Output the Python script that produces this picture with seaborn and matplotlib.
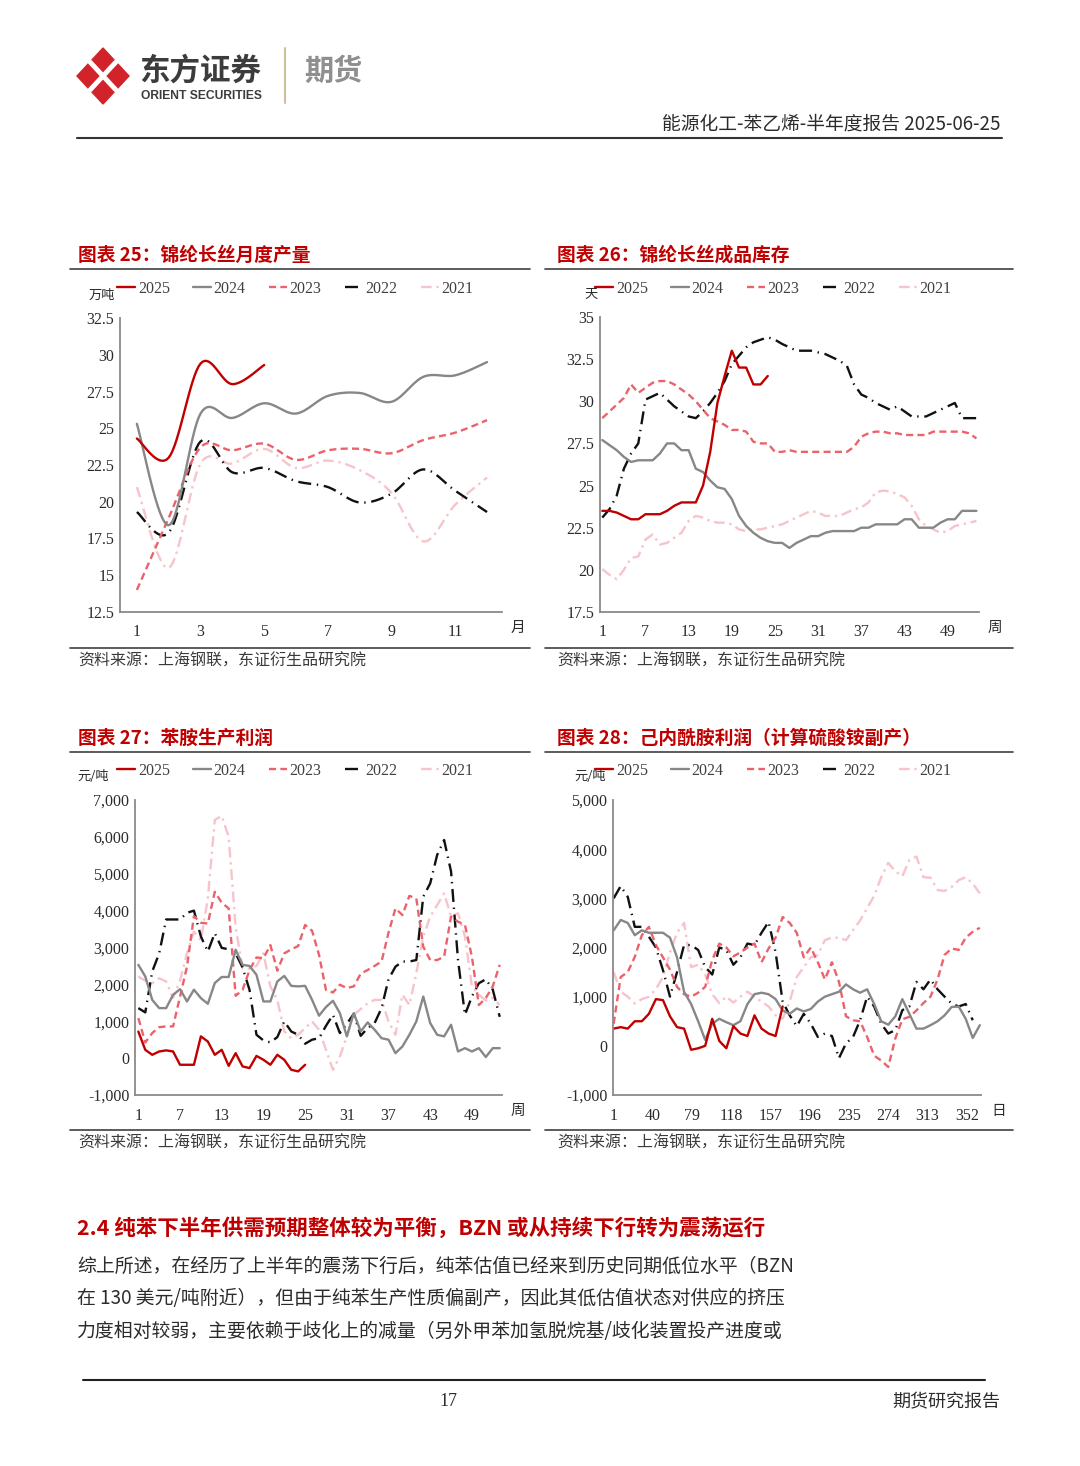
import numpy as np
import pandas as pd
import matplotlib
matplotlib.use("Agg")
import matplotlib.pyplot as plt
import seaborn as sns
from matplotlib.lines import Line2D
from matplotlib.patches import Polygon
from matplotlib.ticker import FuncFormatter

# ---- chart 25: monthly output (万吨) ----
months = list(range(1, 13))
prod_2025 = [24.3, 23.0, 29.4, 28.0, 29.3]
prod_2024 = [25.3, 18.4, 26.0, 25.7, 26.7, 26.0, 27.2, 27.4, 26.8, 28.5, 28.6, 29.5]
prod_2023 = [14.0, 18.9, 23.7, 23.5, 23.95, 22.85, 23.5, 23.6, 23.3, 24.2, 24.7, 25.55]
prod_2022 = [19.3, 17.9, 24.1, 22.0, 22.3, 21.4, 21.0, 19.95, 20.55, 22.2, 20.75, 19.3]
prod_2021 = [21.0, 15.5, 22.6, 22.6, 23.6, 22.3, 22.8, 22.15, 20.6, 17.3, 19.8, 21.65]

# ---- chart 26: finished inventory (天), weekly ----
weeks = list(range(1, 54))
inv_2025 = [23.5, 23.5, 23.4, 23.2, 23.0, 23.0, 23.3, 23.3, 23.3, 23.5, 23.8, 24.0, 24.0, 24.0,
            25.0, 27.0, 29.9, 31.5, 33.0, 32.0, 32.0, 31.0, 31.0, 31.5]
inv_2024 = [27.7, 27.4, 27.1, 26.7, 26.4, 26.5, 26.5, 26.5, 26.9, 27.5,
            27.5, 27.1, 27.1, 26.0, 25.8, 25.3, 24.9, 24.8, 24.2, 23.2,
            22.6, 22.2, 21.9, 21.7, 21.6, 21.6, 21.3, 21.6, 21.8, 22.0,
            22.0, 22.2, 22.3, 22.3, 22.3, 22.3, 22.5, 22.5, 22.7, 22.7,
            22.7, 22.7, 23.0, 23.0, 22.5, 22.5, 22.5, 22.8, 23.0, 23.0,
            23.5, 23.5, 23.5]
inv_2023 = [29.0, 29.4, 29.8, 30.2, 31.0, 30.5, 30.8, 31.1, 31.2, 31.2,
            31.0, 30.7, 30.4, 30.0, 29.5, 29.0, 28.8, 28.6, 28.3, 28.3,
            28.2, 27.6, 27.5, 27.5, 27.0, 27.0, 27.1, 27.0, 27.0, 27.0,
            27.0, 27.0, 27.0, 27.0, 27.0, 27.3, 27.9, 28.1, 28.2, 28.2,
            28.1, 28.1, 28.0, 28.0, 28.0, 28.0, 28.2, 28.2, 28.2, 28.2,
            28.2, 28.1, 27.8]
inv_2022 = [23.1, 23.6, 24.4, 26.0, 26.9, 27.5, 30.1, 30.3, 30.5, 30.1,
            29.7, 29.4, 29.1, 29.0, 29.4, 29.9, 30.5, 31.2, 32.2, 32.7,
            33.2, 33.5, 33.65, 33.8, 33.65, 33.4, 33.2, 33.0, 33.0, 33.0,
            32.9, 32.8, 32.6, 32.4, 32.1, 31.0, 30.4, 30.2, 29.9, 29.7,
            29.5, 29.7, 29.4, 29.1, 29.1, 29.1, 29.3, 29.5, 29.7, 29.9,
            29.0, 29.0, 29.0]
inv_2021 = [20.05, 19.7, 19.45, 20.0, 20.7, 20.8, 21.8, 22.1, 21.5, 21.6,
            21.9, 22.2, 22.9, 23.2, 23.1, 22.9, 22.8, 22.8, 22.7, 22.4,
            22.3, 22.4, 22.4, 22.5, 22.6, 22.7, 22.9, 23.1, 23.3, 23.5,
            23.4, 23.2, 23.2, 23.2, 23.4, 23.6, 23.7, 24.0, 24.6, 24.7,
            24.65, 24.5, 24.3, 23.8, 23.0, 22.6, 22.4, 22.2, 22.3, 22.6,
            22.7, 22.8, 22.9]

# ---- chart 27: aniline margin (元/吨), weekly ----
anl_2025 = [720, 225, 90, 180, 210, 180, -180, -180, -180, 590, 450, 90, 225, -210, 135,
            -225, -270, 60, -45, -180, 90, -45, -316, -360, -180]
anl_2024 = [2530, 2215, 1580, 1356, 1356, 1718, 1870, 1537, 1855, 1627,
            1474, 2035, 2200, 2200, 2940, 2530, 2500, 2260, 1537, 1537,
            2080, 2230, 1960, 1945, 1960, 1580, 1150, 1385, 1555, 1220,
            590, 1220, 723, 968, 770, 540, 500, 135, 316, 633,
            995, 1670, 950, 633, 590, 905, 180, 270, 180, 270,
            30, 270, 270]
anl_2023 = [1085, 425, 680, 840, 860, 860, 1670, 2480, 3850, 3670,
            3650, 4510, 4215, 4060, 1690, 1850, 2390, 2730, 2710, 3065,
            2370, 2840, 2950, 3040, 3610, 3455, 2800, 1850, 1780, 1990,
            1900, 1945, 2290, 2390, 2500, 2620, 3400, 4060, 3880, 4400,
            4330, 3020, 2660, 2660, 2750, 3840, 3700, 3610, 2750, 1440,
            1630, 1945, 2530]
anl_2022 = [1356, 1240, 2350, 2840, 3760, 3760, 3760, 3940, 4000, 3300,
            2890, 3390, 2990, 2950, 2840, 2460, 1850, 633, 480, 425,
            570, 995, 723, 633, 390, 500, 540, 875, 1175, 680,
            930, 1200, 605, 815, 950, 1356, 2140, 2480, 2620, 2620,
            2660, 4380, 4740, 5510, 5915, 5060, 2660, 1175, 1670, 2030,
            2140, 1860, 1120]
anl_2021 = [2210, 2100, 2030, 2165, 2080, 1630, 2100, 2840, 3430, 3200,
            4330, 6460, 6570, 6000, 3560, 2430, 2430, 2500, 2840, 1945,
            1580, 723, 540, 633, 815, 995, 770, 225, -316, 45,
            590, 1175, 1330, 1490, 1580, 1580, 995, 633, 1720, 1440,
            2300, 3300, 3840, 4150, 4470, 3840, 3930, 3300, 1945, 1720,
            1560, 1630, 1440]

# ---- chart 28: caprolactam margin (元/吨), read every 7 days ----
days = list(range(1, 366, 7))
cpl_2025 = [350, 380, 350, 500, 500, 650, 950, 930, 600, 380, 350, -80, -50, 0, 550,
            100, -50, 400, 250, 200, 620, 350, 250, 200, 800]
cpl_2024 = [2350, 2560, 2500, 2250, 2350, 2300, 2300, 2300, 2200, 1800,
            1100, 850, 500, 120, 450, 550, 480, 420, 500, 850,
            1050, 1080, 1050, 950, 720, 650, 760, 700, 750, 900,
            1000, 1050, 1100, 1250, 1150, 1080, 1150, 850, 500, 430,
            600, 950, 650, 350, 350, 420, 500, 620, 790, 800,
            550, 160, 420]
cpl_2023 = [450, 1400, 1500, 1810, 2250, 2420, 2050, 1800, 1550, 1200,
            1050, 1000, 1080, 1200, 1750, 2080, 2000, 1820, 1900, 2000,
            2080, 1700, 1980, 2200, 2620, 2500, 2300, 1800, 2000, 1700,
            1350, 1700, 1300, 600, 520, 500, 180, -200, -300, -430,
            150, 540, 590, 720, 870, 1000, 1350, 1850, 1980, 1950,
            2200, 2320, 2400]
cpl_2022 = [3000, 3250, 3030, 2420, 2420, 2220, 2000, 1540, 1000, 1500,
            2050, 2050, 1950, 1600, 1450, 2000, 1950, 1650, 1800, 2080,
            2050, 2300, 2520, 1900, 900, 620, 400, 650, 450, 180,
            250, 200, -250, 50, 180, 520, 1000, 800, 450, 250,
            320, 725, 800, 1300, 1150, 1350, 1150, 1000, 860, 800,
            850, 520]
cpl_2021 = [1500, 1100, 1000, 860, 950, 1000, 1150, 1400, 1900, 2300,
            2500, 1600, 1650, 1450, 1050, 870, 1000, 880, 1000, 1100,
            1000, 900, 800, 620, 550, 900, 1400, 1600, 1800, 1850,
            2150, 2200, 2200, 2150, 2350, 2550, 2800, 3050, 3430, 3720,
            3550, 3450, 3780, 3850, 3430, 3420, 3170, 3150, 3230, 3370,
            3430, 3300, 3100]

years = ["2025", "2024", "2023", "2022", "2021"]

sns.set_style("white")
plt.rcParams["font.family"] = ["Liberation Serif", "Noto Sans CJK SC", "DejaVu Sans"]
plt.rcParams["axes.unicode_minus"] = False

W, H = 1080, 1466
fig = plt.figure(figsize=(W / 100, H / 100), dpi=100)

CJK = ["Noto Sans CJK SC", "DejaVu Sans"]
RED = "#C00000"

STYLE = {
    "2025": dict(color="#C00000", lw=1.7, ls="-"),
    "2024": dict(color="#878787", lw=1.7, ls="-"),
    "2023": dict(color="#EC626B", lw=1.7, ls=(0, (3, 1.8))),
    "2022": dict(color="#111111", lw=1.7, ls=(0, (5.5, 2.4, 0.6, 2.4))),
    "2021": dict(color="#F6C4CA", lw=1.7, ls=(0, (4.5, 2, 1, 2))),
}


def fx(x):
    return x / W


def fy(y):
    return 1 - y / H


def hline(x0, x1, y, color="#404040", lw=1.2):
    fig.add_artist(Line2D([fx(x0), fx(x1)], [fy(y), fy(y)], color=color, lw=lw))


def smooth(x, y, n=16):
    # Excel "smoothed line" look: cubic Bezier through the points
    x = np.asarray(x, float)
    y = np.asarray(y, float)
    px, py = [x[0]], [y[0]]
    for i in range(len(x) - 1):
        i0, i2 = max(i - 1, 0), min(i + 2, len(x) - 1)
        c1x, c1y = x[i] + (x[i + 1] - x[i0]) / 6, y[i] + (y[i + 1] - y[i0]) / 6
        c2x, c2y = x[i + 1] - (x[i2] - x[i]) / 6, y[i + 1] - (y[i2] - y[i]) / 6
        t = np.linspace(0, 1, n + 1)[1:]
        a, b, c, d = (1 - t) ** 3, 3 * (1 - t) ** 2 * t, 3 * (1 - t) * t ** 2, t ** 3
        px.extend(a * x[i] + b * c1x + c * c2x + d * x[i + 1])
        py.extend(a * y[i] + b * c1y + c * c2y + d * y[i + 1])
    return np.array(px), np.array(py)


def chart(box, xs, series, xlim, ylim, xticks, yticks, yfmt, title, title_x, title_y,
          unit, unit_x, unit_y, xname, xname_x, leg_x, leg_y, line_span, src_y, curve=False):
    l, t, r, b = box
    ax = fig.add_axes([fx(l), fy(b), (r - l) / W, (b - t) / H])
    for yr in years[::-1]:
        vals = series[yr]
        xv = xs[:len(vals)]
        yv = vals
        if curve:
            xv, yv = smooth(xv, yv)
        st = STYLE[yr]
        df = pd.DataFrame({"x": xv, "v": yv})
        sns.lineplot(data=df, x="x", y="v", ax=ax, color=st["color"], linewidth=st["lw"],
                     linestyle=st["ls"], label=yr, sort=False, estimator=None)
    ax.set_xlim(*xlim)
    ax.set_ylim(*ylim)
    ax.set_xticks(xticks)
    ax.set_yticks(yticks)
    ax.yaxis.set_major_formatter(FuncFormatter(yfmt))
    ax.set_xlabel("")
    ax.set_ylabel("")
    for s in ["top", "right"]:
        ax.spines[s].set_visible(False)
    for s in ["left", "bottom"]:
        ax.spines[s].set_color("#8a8a8a")
        ax.spines[s].set_linewidth(1.3)
    ax.tick_params(direction="in", length=4, width=1, color="#8a8a8a", labelsize=11.5,
                   labelcolor="#2b2b2b")
    ax.tick_params(axis="x", pad=9)
    ax.tick_params(axis="y", pad=4)
    ax.patch.set_alpha(0)

    h, lab = ax.get_legend_handles_labels()
    order = [lab.index(y) for y in years]
    leg = ax.legend([h[i] for i in order], [lab[i] for i in order], loc="center left",
                    bbox_to_anchor=(fx(leg_x), fy(leg_y)), bbox_transform=fig.transFigure,
                    ncol=5, frameon=False, fontsize=11.5, handlelength=1.15, handletextpad=0.15,
                    columnspacing=1.45, borderpad=0, borderaxespad=0)
    for txt in leg.get_texts():
        txt.set_color("#404040")

    fig.text(fx(title_x), fy(title_y), title, color=RED, fontsize=13.5, fontweight="bold",
             family=CJK, va="center", ha="left")
    hline(line_span[0], line_span[1], title_y + 14)
    fig.text(fx(unit_x), fy(unit_y), unit, fontsize=9.5, family=CJK, color="#2b2b2b",
             va="center", ha="left")
    fig.text(fx(xname_x), fy(b + 16), xname, fontsize=10.5, family=CJK, color="#2b2b2b",
             va="center", ha="left")
    hline(line_span[0], line_span[1], src_y - 13)
    fig.text(fx(78 if line_span[0] < 300 else 557), fy(src_y), "资料来源：上海钢联，东证衍生品研究院",
             fontsize=11.5, family=CJK, color="#3a3a3a", va="center", ha="left")
    return ax


def fmt_g(v, _):
    return f"{v:g}"


def fmt_k(v, _):
    return f"{v:,.0f}"


# chart 25
chart((120, 318, 502, 612), months,
      {"2025": prod_2025, "2024": prod_2024, "2023": prod_2023, "2022": prod_2022, "2021": prod_2021},
      (0.47, 12.47), (12.5, 32.5), [1, 3, 5, 7, 9, 11], np.arange(12.5, 32.6, 2.5), fmt_g,
      "图表 25：锦纶长丝月度产量", 78, 255, "万吨", 89, 295, "月", 511, 117, 289,
      (70, 530), 661, curve=True)

# chart 26
chart((600, 317, 979, 612), weeks,
      {"2025": inv_2025, "2024": inv_2024, "2023": inv_2023, "2022": inv_2022, "2021": inv_2021},
      (0.68, 53.36), (17.5, 35), [1, 7, 13, 19, 25, 31, 37, 43, 49], np.arange(17.5, 35.1, 2.5), fmt_g,
      "图表 26：锦纶长丝成品库存", 557, 255, "天", 584, 294, "周", 988, 595, 289,
      (545, 1013), 661)

# chart 27
chart((135, 800, 502, 1095), weeks,
      {"2025": anl_2025, "2024": anl_2024, "2023": anl_2023, "2022": anl_2022, "2021": anl_2021},
      (0.52, 53.33), (-1000, 7000), [1, 7, 13, 19, 25, 31, 37, 43, 49], np.arange(-1000, 7001, 1000), fmt_k,
      "图表 27：苯胺生产利润", 78, 738, "元/吨", 77, 776, "周", 511, 117, 771,
      (70, 530), 1143)

# chart 28
chart((613, 800, 981, 1095), days,
      {"2025": cpl_2025, "2024": cpl_2024, "2023": cpl_2023, "2022": cpl_2022, "2021": cpl_2021},
      (0.34, 366.2), (-1000, 5000), [1, 40, 79, 118, 157, 196, 235, 274, 313, 352],
      np.arange(-1000, 5001, 1000), fmt_k,
      "图表 28：己内酰胺利润（计算硫酸铵副产）", 557, 738, "元/吨", 574, 776, "日", 991, 595, 771,
      (545, 1013), 1143)

# ---- page header ----
cx, cy, hw, hh = 103, 76, 26, 28
diamond = [(cx, cy - hh), (cx + hw, cy), (cx, cy + hh), (cx - hw, cy)]
fig.add_artist(Polygon([(fx(a), fy(b)) for a, b in diamond], closed=True, color="#D2232A",
                       transform=fig.transFigure))
for (x0, y0), (x1, y1) in [((cx - hw / 2, cy - hh / 2), (cx + hw / 2, cy + hh / 2)),
                           ((cx + hw / 2, cy - hh / 2), (cx - hw / 2, cy + hh / 2))]:
    fig.add_artist(Line2D([fx(x0), fx(x1)], [fy(y0), fy(y1)], color="white", lw=3.5))
fig.text(fx(139), fy(71), "东方证券", fontsize=22, fontweight="bold", family=CJK,
         color="#3c3c3c", va="center", ha="left")
fig.text(fx(141), fy(96), "ORIENT SECURITIES", fontsize=8.7, fontweight="bold",
         family=["Liberation Sans", "DejaVu Sans"], color="#3c3c3c", va="center", ha="left")
fig.add_artist(Line2D([fx(285), fx(285)], [fy(48), fy(103)], color="#CDBF9E", lw=1.5))
fig.text(fx(304), fy(71), "期货", fontsize=21, fontweight="bold", family=CJK,
         color="#8f8f8f", va="center", ha="left")
fig.text(fx(1001), fy(124), "能源化工-苯乙烯-半年度报告 2025-06-25", fontsize=13.5,
         family=CJK, color="#2b2b2b", va="center", ha="right")
hline(77, 1002, 138, color="#333333", lw=1.5)

# ---- body text ----
fig.text(fx(77), fy(1228), "2.4 纯苯下半年供需预期整体较为平衡，BZN 或从持续下行转为震荡运行",
         fontsize=15.5, fontweight="bold", family=CJK, color=RED, va="center", ha="left")
body = [
    "综上所述，在经历了上半年的震荡下行后，纯苯估值已经来到历史同期低位水平（BZN",
    "在 130 美元/吨附近），但由于纯苯生产性质偏副产，因此其低估值状态对供应的挤压",
    "力度相对较弱，主要依赖于歧化上的减量（另外甲苯加氢脱烷基/歧化装置投产进度或",
]
for i, line in enumerate(body):
    fig.text(fx(77), fy(1266 + i * 32.5), line, fontsize=13.6, family=CJK, color="#2b2b2b",
             va="center", ha="left")

# ---- footer ----
hline(83, 985, 1380, color="#222222", lw=1.5)
fig.text(fx(448), fy(1402), "17", fontsize=13, color="#2b2b2b", va="center", ha="center")
fig.text(fx(1000), fy(1402), "期货研究报告", fontsize=13, family=CJK, color="#2b2b2b",
         va="center", ha="right")

fig.savefig("out.png", dpi=100)
